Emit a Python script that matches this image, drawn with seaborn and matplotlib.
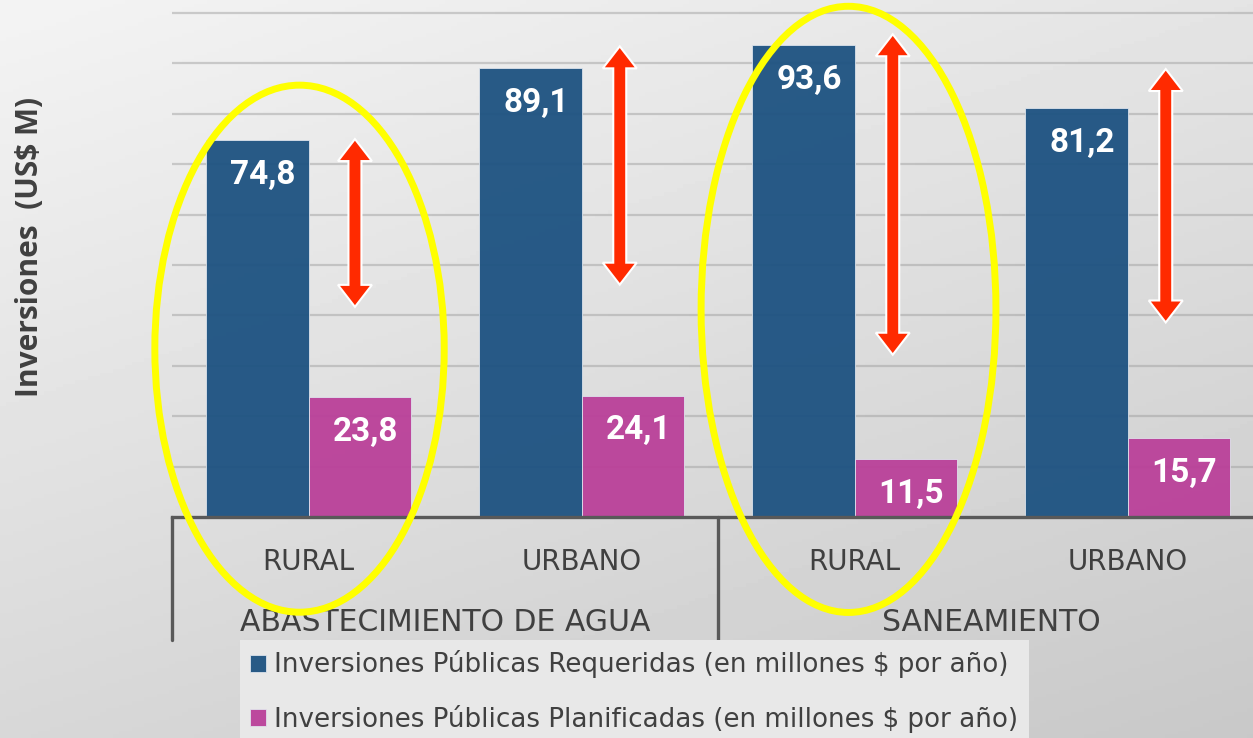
import matplotlib
matplotlib.use("Agg")
import matplotlib.pyplot as plt
from matplotlib.patches import Ellipse, Polygon
from matplotlib.transforms import IdentityTransform, blended_transform_factory
import seaborn as sns
import pandas as pd
import numpy as np

# data
grupos = ["ABASTECIMIENTO DE AGUA", "SANEAMIENTO"]
subcats = ["RURAL", "URBANO", "RURAL", "URBANO"]
claves = ["agua_rural", "agua_urbano", "san_rural", "san_urbano"]
requeridas = [74.8, 89.1, 93.6, 81.2]
planificadas = [23.8, 24.1, 11.5, 15.7]
serie_req = "Inversiones Públicas Requeridas (en millones $ por año)"
serie_plan = "Inversiones Públicas Planificadas (en millones $ por año)"

# brechas marcadas con flechas (valores en US$ M)
flecha_sup = [75.0, 93.4, 95.8, 88.9]
flecha_inf = [41.7, 46.1, 32.2, 38.6]

df = pd.DataFrame({
    "clave": claves * 2,
    "valor": requeridas + planificadas,
    "serie": [serie_req] * 4 + [serie_plan] * 4,
})

sns.set_style("white")
plt.rcParams["font.family"] = ["DejaVu Sans"]

fig = plt.figure(figsize=(12.53, 7.38), dpi=100)

# fondo degradado gris
bg = fig.add_axes([0, 0, 1, 1], zorder=-10)
yy, xx = np.mgrid[0:1:200j, 0:1:200j]
grad = 0.955 - 0.11 * yy - 0.06 * xx
bg.imshow(grad, cmap="gray", vmin=0, vmax=1, aspect="auto", extent=[0, 1, 0, 1], origin="upper")
bg.axis("off")

ax = fig.add_axes([0.1373, 0.2995, 0.8715, 0.7005])
ax.patch.set_alpha(0)

sns.barplot(data=df, x="clave", y="valor", hue="serie", hue_order=[serie_req, serie_plan],
            palette=["#1D5281", "#BA4099"], saturation=1, width=0.75, alpha=0.95,
            edgecolor="#E0E6EE", linewidth=0.6, ax=ax, zorder=2)

ax.set_xlim(-0.5, 3.5)
ax.set_ylim(0, 102.6)
ax.set_yticks(np.arange(10, 101, 10))
ax.yaxis.grid(True, color="#9A9A9A", alpha=0.45, linewidth=1.6)
ax.set_axisbelow(True)
ax.tick_params(axis="y", left=False, labelleft=False)
for s in ["top", "right", "left"]:
    ax.spines[s].set_visible(False)
ax.spines["bottom"].set_color("#595959")
ax.spines["bottom"].set_linewidth(2.4)
ax.set_xlabel("")
ax.set_ylabel("")

ax.set_xticks(range(4))
ax.set_xticklabels(subcats, fontsize=20, color="#404040")
ax.tick_params(axis="x", length=0, pad=22)

trans = blended_transform_factory(ax.transData, ax.transAxes)
for sep in [-0.5, 1.5, 3.5]:
    ax.plot([sep, sep], [0, -0.238], transform=trans, color="#595959", lw=2.4, clip_on=False)
for i, g in enumerate(grupos):
    ax.text(2 * i + 0.5, -0.205, g, transform=trans, ha="center", va="center",
            fontsize=21.5, color="#404040")

# etiquetas de valores
for cont, vals in zip(ax.containers, [requeridas, planificadas]):
    for bar, v in zip(cont, vals):
        ax.annotate(f"{v:.1f}".replace(".", ","), (bar.get_x() + bar.get_width() / 2, v),
                    xytext=(4, -25), textcoords="offset points", ha="center", va="center",
                    color="white", fontsize=24, fontweight="bold", family=["Roboto", "DejaVu Sans"],
                    zorder=5)

# flechas dobles rojas
desp = [0.17, 0.14, 0.14, 0.14]
sw, hw, hl = 6.5, 17, 22
for i in range(4):
    x0, ytop = ax.transData.transform((i + desp[i], flecha_sup[i]))
    _, ybot = ax.transData.transform((i + desp[i], flecha_inf[i]))
    pts = [(x0, ytop), (x0 + hw, ytop - hl), (x0 + sw, ytop - hl), (x0 + sw, ybot + hl),
           (x0 + hw, ybot + hl), (x0, ybot), (x0 - hw, ybot + hl), (x0 - sw, ybot + hl),
           (x0 - sw, ytop - hl), (x0 - hw, ytop - hl)]
    fig.add_artist(Polygon(pts, closed=True, transform=IdentityTransform(),
                           facecolor="#FF2A00", edgecolor="white", linewidth=1.5, zorder=6))

# elipses amarillas
for cx, cy, w, h in [(-0.033, 33.4, 1.06, 104.6), (1.978, 41.2, 1.08, 120.3)]:
    ax.add_patch(Ellipse((cx, cy), w, h, fill=False, edgecolor="#FFFF00", linewidth=5,
                         clip_on=False, zorder=7))

fig.text(30 / 1253, 1 - 247 / 738, "Inversiones  (US$ M)", rotation=90, ha="center", va="center",
         fontsize=21.5, fontweight="bold", color="#404040", family=["Open Sans", "DejaVu Sans"])

handles, labels = ax.get_legend_handles_labels()
ax.legend(handles, labels, loc="upper left", bbox_to_anchor=(240 / 1253, 1 - 640 / 738),
          bbox_transform=fig.transFigure, frameon=True, facecolor="#E8E8E8", edgecolor="none",
          fancybox=False, framealpha=1, handlelength=0.6, handleheight=0.6, handletextpad=0.3,
          labelspacing=1.0, borderpad=0.4, borderaxespad=0, prop={"size": 18.8},
          labelcolor="#404040")

fig.savefig("out.png", dpi=100)
